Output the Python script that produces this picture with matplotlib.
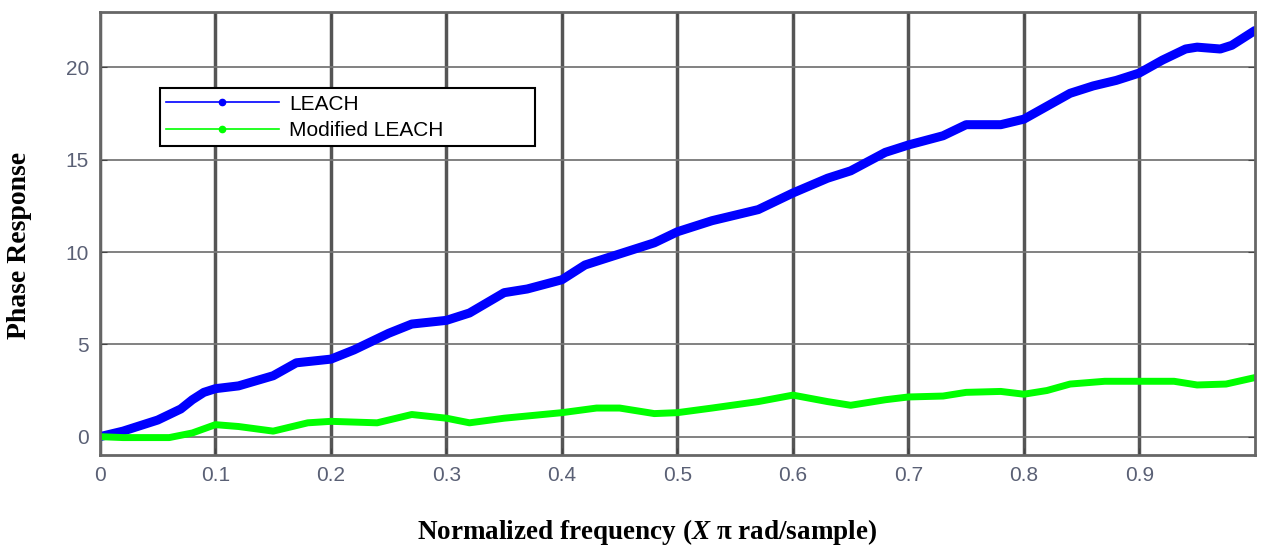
import matplotlib.pyplot as plt

plt.rcParams['mathtext.fontset'] = 'custom'
plt.rcParams['mathtext.it'] = 'Liberation Serif:italic:bold'

# LEACH phase response
leach_x = [0.0, 0.02, 0.05, 0.07, 0.08, 0.09, 0.1, 0.12, 0.15, 0.17, 0.2, 0.22, 0.25,
           0.27, 0.3, 0.32, 0.35, 0.37, 0.4, 0.42, 0.45, 0.48, 0.5, 0.53, 0.57, 0.6,
           0.63, 0.65, 0.68, 0.7, 0.73, 0.75, 0.78, 0.8, 0.82, 0.84, 0.86, 0.88,
           0.9, 0.92, 0.94, 0.95, 0.97, 0.98, 1.0]
leach_y = [0.0, 0.3, 0.9, 1.5, 2.0, 2.4, 2.6, 2.75, 3.3, 4.0, 4.2, 4.7, 5.6,
           6.1, 6.3, 6.7, 7.8, 8.0, 8.5, 9.3, 9.9, 10.5, 11.1, 11.7, 12.3, 13.2,
           14.0, 14.4, 15.4, 15.8, 16.3, 16.9, 16.9, 17.2, 17.9, 18.6, 19.0, 19.3,
           19.7, 20.4, 21.0, 21.1, 21.0, 21.2, 22.0]

# Modified LEACH phase response
mod_x = [0.0, 0.02, 0.06, 0.08, 0.1, 0.12, 0.15, 0.18, 0.2, 0.24, 0.27, 0.3,
         0.32, 0.35, 0.4, 0.43, 0.45, 0.48, 0.5, 0.53, 0.57, 0.6, 0.63, 0.65,
         0.68, 0.7, 0.73, 0.75, 0.78, 0.8, 0.82, 0.84, 0.87, 0.9, 0.93, 0.95,
         0.975, 1.0]
mod_y = [0.0, -0.05, -0.05, 0.2, 0.65, 0.55, 0.3, 0.75, 0.83, 0.75, 1.2, 1.0,
         0.75, 1.0, 1.3, 1.55, 1.55, 1.25, 1.3, 1.55, 1.9, 2.25, 1.9, 1.7,
         2.0, 2.15, 2.2, 2.4, 2.45, 2.3, 2.5, 2.85, 3.0, 3.0, 3.0, 2.8,
         2.85, 3.2]

x_ticks = [0, 0.1, 0.2, 0.3, 0.4, 0.5, 0.6, 0.7, 0.8, 0.9]
y_ticks = [0, 5, 10, 15, 20]

fig = plt.figure(figsize=(12.65, 5.49), dpi=100)
ax = fig.add_axes([0.079, 0.171, 0.913, 0.807])

ax.plot(leach_x, leach_y, color='#0000ff', lw=6.5, solid_capstyle='round',
        solid_joinstyle='round')
ax.plot(mod_x, mod_y, color='#00ff00', lw=5, solid_capstyle='round',
        solid_joinstyle='round')

# legend handles: thin line with a dot in the middle
h1, = ax.plot([], [], color='#0000ff', lw=1.2, marker='.', markersize=9)
h2, = ax.plot([], [], color='#00ff00', lw=1.2, marker='.', markersize=9)
leg = ax.legend([h1, h2], ['LEACH', 'Modified LEACH'], loc='upper left',
                bbox_to_anchor=(0.052, 0.693, 0.325, 0.135), mode='expand',
                borderaxespad=0, handlelength=5.4, handletextpad=0.5,
                numpoints=1, fancybox=False, framealpha=1, edgecolor='black',
                borderpad=0.3, prop={'family': 'Liberation Sans', 'size': 15},
                labelspacing=0.35)
leg.get_frame().set_linewidth(1.5)

ax.set_xlim(0, 1.0)
ax.set_ylim(-1, 23)
ax.set_xticks(x_ticks)
ax.set_xticklabels([str(t) if t else '0' for t in x_ticks])
ax.set_yticks(y_ticks)

ax.grid(axis='x', color='#555555', lw=2.5)
ax.grid(axis='y', color='#777777', lw=1.3)
ax.set_axisbelow(True)
for s in ax.spines.values():
    s.set_color('#666666')
    s.set_linewidth(2)

ax.tick_params(direction='in', length=5, color='#444444', top=True, right=True,
               labelsize=15, labelcolor='#5a6075', pad=8)
for lab in ax.get_xticklabels() + ax.get_yticklabels():
    lab.set_family('Liberation Sans')

ax.set_xlabel('Normalized frequency ($X$ \u03c0 rad/sample)', fontsize=19.5,
              fontweight='bold', family='Liberation Serif')
ax.set_ylabel('Phase Response', fontsize=20, fontweight='bold',
              family='Liberation Serif')
ax.xaxis.set_label_coords(0.474, -0.14)
ax.yaxis.set_label_coords(-0.059, 0.474)

fig.savefig('out.png', dpi=100)
